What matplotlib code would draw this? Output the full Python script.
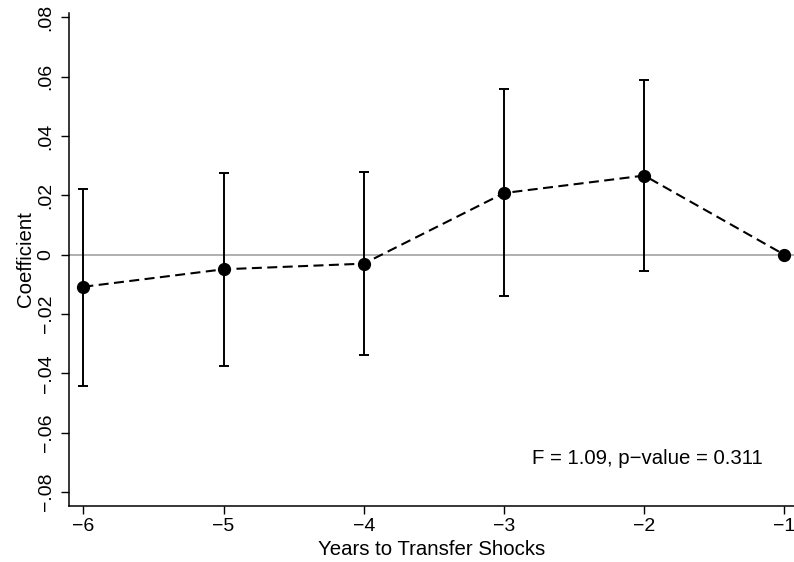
import matplotlib
matplotlib.use("Agg")
import matplotlib.pyplot as plt
import numpy as np

# Event-study coefficients with 95% confidence intervals
years = [-6, -5, -4, -3, -2, -1]
coef = [-0.0108, -0.0049, -0.0030, 0.0208, 0.0267, 0.0]
ci_low = [-0.0442, -0.0376, -0.0339, -0.0140, -0.0055, 0.0]
ci_high = [0.0223, 0.0274, 0.0280, 0.0558, 0.0589, 0.0]
yticks = [-0.08, -0.06, -0.04, -0.02, 0, 0.02, 0.04, 0.06, 0.08]
ytick_labels = ["\u2212.08", "\u2212.06", "\u2212.04", "\u2212.02", "0", ".02", ".04", ".06", ".08"]
xtick_labels = ["\u22126", "\u22125", "\u22124", "\u22123", "\u22122", "\u22121"]
note = "F = 1.09, p\u2212value = 0.311"

plt.rcParams["font.family"] = ["Liberation Sans", "DejaVu Sans"]

fig = plt.figure(figsize=(7.94, 5.62), dpi=100)
ax = fig.add_axes([69 / 794, 56 / 562, 725 / 794, 493 / 562])

ax.axhline(0, color="#9a9a9a", lw=1.1, zorder=1)

# confidence intervals (the reference year has none)
ci_x = np.array([x for x, lo, hi in zip(years, ci_low, ci_high) if hi != lo])
ci_lo = [lo for lo, hi in zip(ci_low, ci_high) if hi != lo]
ci_hi = [hi for lo, hi in zip(ci_low, ci_high) if hi != lo]
ax.vlines(ci_x, ci_lo, ci_hi, color="black", lw=1.4, zorder=2)
ax.hlines(ci_lo, ci_x - 0.036, ci_x + 0.036, color="black", lw=1.4, zorder=2)
ax.hlines(ci_hi, ci_x - 0.036, ci_x + 0.036, color="black", lw=1.4, zorder=2)

ax.plot(years, coef, color="black", lw=1.5, linestyle=(0, (4.8, 2.6)),
        marker="o", markersize=8.5, zorder=3)

ax.set_xlim(-6.1026, -0.932)
ax.set_ylim(-0.0847, 0.0815)
ax.set_xticks(years)
ax.set_xticklabels(xtick_labels, fontsize=14)
ax.set_yticks(yticks)
ax.set_yticklabels(ytick_labels, fontsize=14, rotation=90, va="center")
ax.tick_params(direction="out", length=5.8, width=1, colors="black")
ax.tick_params(axis="x", pad=2.5)
ax.tick_params(axis="y", pad=4.5)

for side in ("top", "right"):
    ax.spines[side].set_visible(False)
for side in ("left", "bottom"):
    ax.spines[side].set_linewidth(1.1)

ax.set_xlabel("Years to Transfer Shocks", fontsize=14.7, labelpad=4)
ax.set_ylabel("Coefficient", fontsize=14.7, labelpad=2)

ax.text(-2.798, -0.0706, note, fontsize=14.7, ha="left", va="baseline")

fig.savefig("out.png", dpi=100)
